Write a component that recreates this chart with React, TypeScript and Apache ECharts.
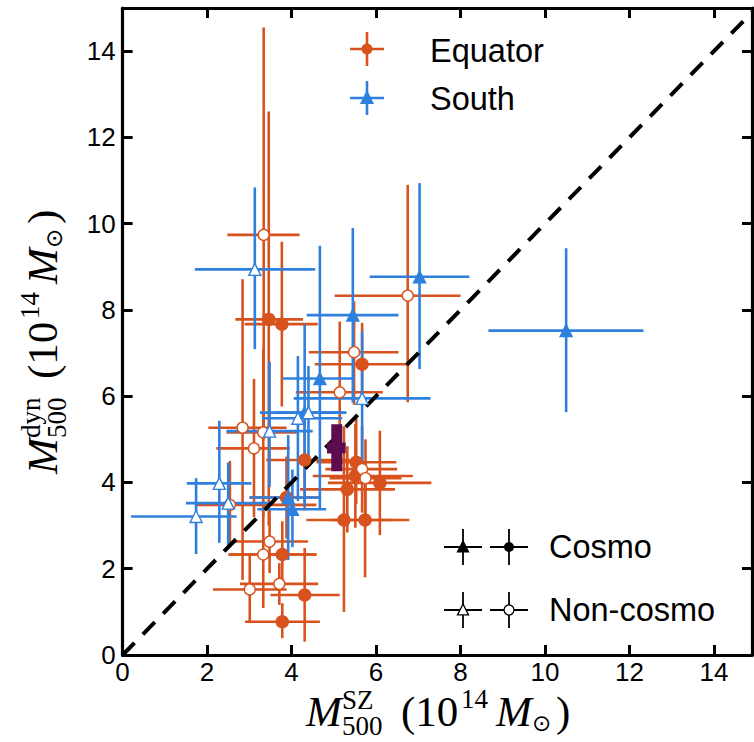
import React, { useEffect, useRef } from "react";
import * as echarts from "echarts";

// ---------- data ----------
const xTicks = [0, 2, 4, 6, 8, 10, 12, 14];
const yTicks = [0, 2, 4, 6, 8, 10, 12, 14];

// [x, y, xLow, xHigh, yLow, yHigh]
const equatorCosmo: number[][] = [
  [3.46, 7.78, 2.67, 4.27, 3.0, 12.6],
  [3.77, 7.67, 2.89, 4.62, 5.76, 9.58],
  [5.67, 6.74, 4.55, 6.79, 5.78, 7.7],
  [4.31, 4.52, 3.4, 5.38, 3.4, 5.6],
  [5.53, 4.47, 4.59, 6.48, 3.5, 5.5],
  [5.51, 4.15, 4.5, 6.87, 2.95, 5.35],
  [6.09, 3.99, 4.86, 7.31, 2.78, 5.2],
  [5.32, 3.84, 4.2, 6.45, 2.84, 4.84],
  [5.24, 3.13, 4.35, 6.79, 1.0, 5.3],
  [5.74, 3.13, 4.9, 6.4, 1.8, 4.5],
  [3.78, 2.33, 2.54, 4.59, 1.6, 3.1],
  [4.31, 1.39, 3.5, 5.14, 0.31, 2.48],
  [3.78, 0.77, 2.9, 4.67, 0.39, 1.2],
  [3.88, 3.65, 3.0, 4.7, 2.7, 4.6],
];

const equatorNonCosmo: number[][] = [
  [3.34, 9.74, 2.48, 4.19, 5.0, 14.55],
  [6.75, 8.33, 5.02, 8.0, 5.86, 10.9],
  [5.48, 7.02, 4.41, 6.53, 5.8, 8.2],
  [5.14, 6.09, 4.1, 6.16, 4.45, 7.73],
  [2.84, 5.27, 2.03, 3.88, 1.74, 8.71],
  [3.33, 5.16, 2.46, 4.12, 3.2, 7.1],
  [3.11, 4.79, 2.22, 3.96, 3.2, 6.4],
  [2.54, 3.48, 1.71, 4.59, 2.5, 4.5],
  [3.48, 2.63, 2.66, 4.39, 1.9, 3.4],
  [3.33, 2.33, 2.5, 4.59, 1.09, 3.57],
  [3.01, 1.52, 2.14, 3.88, 0.74, 2.32],
  [3.71, 1.65, 2.78, 4.63, 1.16, 2.13],
  [5.67, 4.31, 4.8, 6.5, 3.3, 5.3],
  [5.75, 4.1, 4.9, 6.6, 3.2, 5.0],
];

const southCosmo: number[][] = [
  [7.03, 8.77, 5.85, 8.21, 6.63, 10.94],
  [10.5, 7.52, 8.66, 12.33, 5.63, 9.43],
  [5.45, 7.88, 4.36, 6.53, 5.85, 9.9],
  [4.67, 6.41, 3.8, 5.5, 3.4, 9.49],
  [4.31, 5.62, 3.25, 5.22, 3.44, 7.67],
  [3.92, 3.65, 3.01, 4.67, 2.2, 5.1],
  [4.02, 3.38, 3.19, 4.82, 2.5, 4.3],
];

const southNonCosmo: number[][] = [
  [3.13, 8.94, 1.71, 4.56, 7.09, 10.84],
  [5.67, 5.95, 4.05, 7.29, 4.2, 7.5],
  [4.15, 5.49, 3.3, 5.2, 3.57, 6.93],
  [4.4, 5.62, 3.6, 5.3, 4.5, 6.7],
  [3.48, 5.19, 2.46, 4.5, 3.9, 6.8],
  [2.29, 3.98, 1.52, 3.05, 2.6, 5.43],
  [2.5, 3.52, 1.5, 3.48, 2.55, 4.46],
  [1.74, 3.21, 0.2, 2.7, 2.34, 4.1],
];

// weighted mean (x, y, xLow, xHigh, yLow, yHigh)
const meanPoint: number[][] = [[5.07, 4.8, 4.84, 5.28, 4.26, 5.35]];

const oneToOne: number[][] = [
  [0, 0],
  [15, 15],
];

// ---------- styles ----------
const ORANGE = "#d8521e";
const BLUE = "#2f80de";
const PURPLE = "#5e0c50";
const SANS = "'Liberation Sans', Arial, Helvetica, sans-serif";
const SERIF = "'Liberation Serif', 'DejaVu Serif', serif";

function errorBars(data: number[][], color: string, z: number) {
  return {
    type: "custom",
    data,
    z,
    clip: true,
    silent: true,
    encode: { x: 0, y: 1 },
    renderItem: (_p: any, api: any) => {
      const x = api.value(0);
      const y = api.value(1);
      const a = api.coord([api.value(2), y]);
      const b = api.coord([api.value(3), y]);
      const c = api.coord([x, api.value(4)]);
      const d = api.coord([x, api.value(5)]);
      const style = { stroke: color, lineWidth: 2.6 };
      return {
        type: "group",
        children: [
          { type: "line", shape: { x1: a[0], y1: a[1], x2: b[0], y2: b[1] }, style },
          { type: "line", shape: { x1: c[0], y1: c[1], x2: d[0], y2: d[1] }, style },
        ],
      };
    },
  };
}

function markers(data: number[][], symbol: string, size: number, fill: string, border: string, z: number) {
  return {
    type: "scatter",
    data: data.map((d) => [d[0], d[1]]),
    symbol,
    symbolSize: size,
    z,
    silent: true,
    itemStyle: { color: fill, borderColor: border, borderWidth: 1.4, opacity: 1 },
  };
}

function meanCross(data: number[][]) {
  return {
    type: "custom",
    data,
    z: 6,
    silent: true,
    encode: { x: 0, y: 1 },
    renderItem: (_p: any, api: any) => {
      const x = api.value(0);
      const y = api.value(1);
      const a = api.coord([api.value(2), y]);
      const b = api.coord([api.value(3), y]);
      const c = api.coord([x, api.value(4)]);
      const d = api.coord([x, api.value(5)]);
      const w = 11;
      return {
        type: "group",
        children: [
          { type: "rect", shape: { x: a[0], y: a[1] - w / 2, width: b[0] - a[0], height: w }, style: { fill: PURPLE } },
          { type: "rect", shape: { x: c[0] - w / 2, y: d[1], width: w, height: c[1] - d[1] }, style: { fill: PURPLE } },
        ],
      };
    },
  };
}

function tri(cx: number, cy: number, s: number, fill: string, stroke: string) {
  return {
    type: "polygon",
    shape: {
      points: [
        [cx, cy - s * 0.55],
        [cx - s * 0.5, cy + s * 0.45],
        [cx + s * 0.5, cy + s * 0.45],
      ],
    },
    style: { fill, stroke, lineWidth: 1.3 },
    z: 100,
  };
}

function cross(cx: number, cy: number, hw: number, hh: number, color: string, lw: number) {
  return [
    { type: "line", shape: { x1: cx - hw, y1: cy, x2: cx + hw, y2: cy }, style: { stroke: color, lineWidth: lw }, z: 100 },
    { type: "line", shape: { x1: cx, y1: cy - hh, x2: cx, y2: cy + hh }, style: { stroke: color, lineWidth: lw }, z: 100 },
  ];
}

function txt(text: string, x: number, y: number, size: number, family: string, italic = false, lh?: number) {
  return {
    type: "text",
    x,
    y,
    z: 100,
    style: {
      text,
      fontSize: size,
      fontFamily: family,
      fontStyle: italic ? "italic" : "normal",
      fill: "#000",
      lineHeight: lh ?? Math.round(size * 1.15),
      align: "left",
      verticalAlign: "middle",
      textAlign: "left",
      textVerticalAlign: "middle",
    },
  };
}

function massLabel(sup: string, x: number, y: number, rotation: number) {
  const F = 43;
  const S = 27;
  return {
    type: "group",
    x,
    y,
    rotation,
    z: 100,
    children: [
      txt("M", 0, 0, F, SERIF, true, 34),
      // stacked superscript / subscript as one two-line text
      txt(sup + "\n500", 36, 1.5, S, SERIF, false, 26),
      txt("(10", 95, 0, F, SERIF, false, 34),
      txt("14", 155, -12, S, SERIF, false, 20),
      txt("M", 190, 0, F, SERIF, true, 34),
      txt("\u2299", 226, 12, 23, "'DejaVu Sans', sans-serif", false, 18),
      txt(")", 250, 0, F, SERIF, false, 34),
    ],
  };
}

function axisCommon(min: number, max: number, ticks: number[], showLabel: boolean, position: string) {
  return {
    type: "value",
    min,
    max,
    position,
    splitLine: { show: false },
    axisLine: { show: true, onZero: false, lineStyle: { color: "#000", width: 3.2 } },
    axisTick: {
      show: true,
      inside: true,
      length: 10,
      customValues: ticks,
      lineStyle: { color: "#000", width: 3 },
    },
    axisLabel: {
      show: showLabel,
      customValues: ticks,
      color: "#000",
      fontSize: 26,
      lineHeight: 20,
      fontFamily: SANS,
      margin: 7,
    },
  };
}

export default function App() {
  const ref = useRef<HTMLDivElement>(null);
  useEffect(() => {
    document.body.style.margin = "0";
    if (!ref.current) return;
    const chart = echarts.init(ref.current, null, { renderer: "svg" });
    const option: any = {
      animation: false,
      backgroundColor: "#fff",
      grid: { left: 122.6, right: 2, top: 8, bottom: 87, containLabel: false },
      xAxis: [axisCommon(0, 14.9, xTicks, true, "bottom"), axisCommon(0, 14.9, xTicks, false, "top")],
      yAxis: [axisCommon(0, 15, yTicks, true, "left"), axisCommon(0, 15, yTicks, false, "right")],
      series: [
        errorBars(equatorCosmo, ORANGE, 2),
        errorBars(equatorNonCosmo, ORANGE, 2),
        errorBars(southCosmo, BLUE, 2),
        errorBars(southNonCosmo, BLUE, 2),
        {
          type: "line",
          data: oneToOne,
          symbol: "none",
          z: 3,
          silent: true,
          clip: true,
          lineStyle: { color: "#000", width: 4, type: [17, 12] },
        },
        markers(equatorCosmo, "circle", 12, ORANGE, ORANGE, 4),
        markers(equatorNonCosmo, "circle", 11, "#fff", ORANGE, 4),
        markers(southCosmo, "triangle", 12, BLUE, BLUE, 5),
        markers(southNonCosmo, "triangle", 12, "#fff", BLUE, 5),
        meanCross(meanPoint),
      ],
      graphic: [
        // legend: regions
        ...cross(367, 49, 17, 17, ORANGE, 2.6),
        { type: "circle", shape: { cx: 367, cy: 49, r: 5.5 }, style: { fill: ORANGE }, z: 100 },
        txt("Equator", 430, 51, 32.5, SANS),
        ...cross(367, 98, 17, 17, BLUE, 2.6),
        tri(367, 98, 12, BLUE, BLUE),
        txt("South", 430, 99, 32.5, SANS),
        // legend: cosmo / non-cosmo
        ...cross(463, 547, 19, 18, "#000", 1.8),
        tri(463, 547, 11, "#000", "#000"),
        ...cross(509, 547, 19, 18, "#000", 1.8),
        { type: "circle", shape: { cx: 509, cy: 547, r: 5 }, style: { fill: "#000" }, z: 100 },
        txt("Cosmo", 549, 547, 32.5, SANS),
        ...cross(463, 610, 19, 18, "#000", 1.8),
        tri(463, 610, 11, "#fff", "#000"),
        ...cross(509, 610, 19, 18, "#000", 1.8),
        { type: "circle", shape: { cx: 509, cy: 610, r: 5 }, style: { fill: "#fff", stroke: "#000", lineWidth: 1.3 }, z: 100 },
        txt("Non-cosmo", 549, 610, 32.5, SANS),
        // axis titles
        massLabel("SZ", 306, 711, 0),
        massLabel("dyn", 42, 474, Math.PI / 2),
      ],
    };
    chart.setOption(option);
    return () => chart.dispose();
  }, []);
  return <div ref={ref} style={{ width: 754, height: 742 }} />;
}
